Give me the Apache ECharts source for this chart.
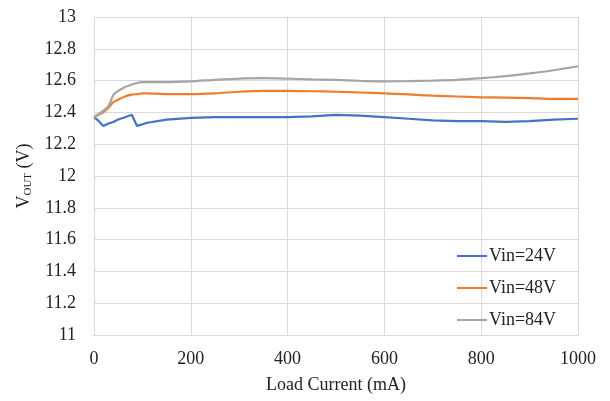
<!DOCTYPE html>
<html>
<head>
<meta charset="utf-8">
<script src="https://cdn.jsdelivr.net/npm/echarts@6/dist/echarts.min.js"></script>
<style>
  html, body { margin: 0; padding: 0; background: #fff; }
  #chart { width: 610px; height: 401px; }
</style>
</head>
<body>
<div id="chart"></div>
<script>
// Load current sample points (mA)
const loadCurrent = [0, 10, 19, 30, 40, 50, 64, 78, 89, 100, 110, 150, 200, 250, 300, 350, 400, 450, 500, 550, 600, 650, 700, 750, 800, 850, 900, 950, 1000];

// Output voltage (V) for each input voltage
const vin24 = [12.37, 12.345, 12.315, 12.33, 12.34, 12.355, 12.37, 12.385, 12.315, 12.325, 12.335, 12.355, 12.365, 12.37, 12.37, 12.37, 12.37, 12.375, 12.385, 12.38, 12.37, 12.36, 12.35, 12.345, 12.345, 12.34, 12.345, 12.355, 12.36];
const vin48 = [12.37, 12.385, 12.4, 12.43, 12.465, 12.48, 12.5, 12.512, 12.515, 12.52, 12.52, 12.515, 12.515, 12.52, 12.53, 12.535, 12.535, 12.533, 12.53, 12.525, 12.52, 12.513, 12.505, 12.5, 12.495, 12.493, 12.49, 12.485, 12.485];
const vin84 = [12.37, 12.39, 12.41, 12.44, 12.51, 12.535, 12.56, 12.575, 12.585, 12.59, 12.59, 12.59, 12.595, 12.605, 12.613, 12.615, 12.612, 12.608, 12.605, 12.598, 12.595, 12.597, 12.6, 12.605, 12.615, 12.628, 12.645, 12.665, 12.69];

const seriesNames = ['Vin=24V', 'Vin=48V', 'Vin=84V'];
const seriesColors = ['#4472C4', '#ED7D31', '#A5A5A5'];
const seriesValues = [vin24, vin48, vin84];

const font = '"Liberation Serif", "Times New Roman", serif';

const chart = echarts.init(document.getElementById('chart'));
chart.setOption({
  animation: false,
  backgroundColor: '#fff',
  grid: { left: 94, right: 32, top: 17, bottom: 66 },
  legend: {
    orient: 'vertical',
    left: 452,
    top: 242,
    itemGap: 14,
    itemWidth: 30,
    itemHeight: 2,
    icon: 'rect',
    textStyle: { fontFamily: font, fontSize: 18, color: '#222', padding: [0, 0, 0, -3] },
    data: seriesNames
  },
  xAxis: {
    type: 'value',
    min: 0, max: 1000, interval: 200,
    name: 'Load Current (mA)',
    nameLocation: 'middle',
    nameGap: 41,
    nameTextStyle: { fontFamily: font, fontSize: 18, color: '#222' },
    axisLine: { show: true, lineStyle: { color: '#d9d9d9' } },
    axisTick: { show: false },
    axisLabel: {
      fontFamily: font, fontSize: 18, color: '#222', margin: 15,
      formatter: v => String(v)
    },
    splitLine: { show: true, lineStyle: { color: '#d9d9d9' } }
  },
  yAxis: {
    type: 'value',
    min: 11, max: 13, interval: 0.2,
    name: '{v|V}{s|OUT}{v| (V)}',
    nameLocation: 'middle',
    nameGap: 60,
    nameRotate: 90,
    nameTextStyle: {
      fontFamily: font, color: '#222',
      rich: {
        v: { fontFamily: font, fontSize: 18, color: '#222' },
        s: { fontFamily: font, fontSize: 11, color: '#222', padding: [7, 0, 0, 0] }
      }
    },
    axisLine: { show: true, lineStyle: { color: '#d9d9d9' } },
    axisTick: { show: false },
    axisLabel: {
      fontFamily: font, fontSize: 18, color: '#222', margin: 18,
      formatter: v => String(Math.round(v * 10) / 10)
    },
    splitLine: { show: true, lineStyle: { color: '#d9d9d9' } }
  },
  series: seriesNames.map((name, i) => ({
    name: name,
    type: 'line',
    showSymbol: false,
    symbol: 'none',
    smooth: i === 0 ? false : 0.2,
    color: seriesColors[i],
    lineStyle: { width: 2.2, color: seriesColors[i] },
    data: loadCurrent.map((x, j) => [x, seriesValues[i][j]])
  }))
});
</script>
</body>
</html>
